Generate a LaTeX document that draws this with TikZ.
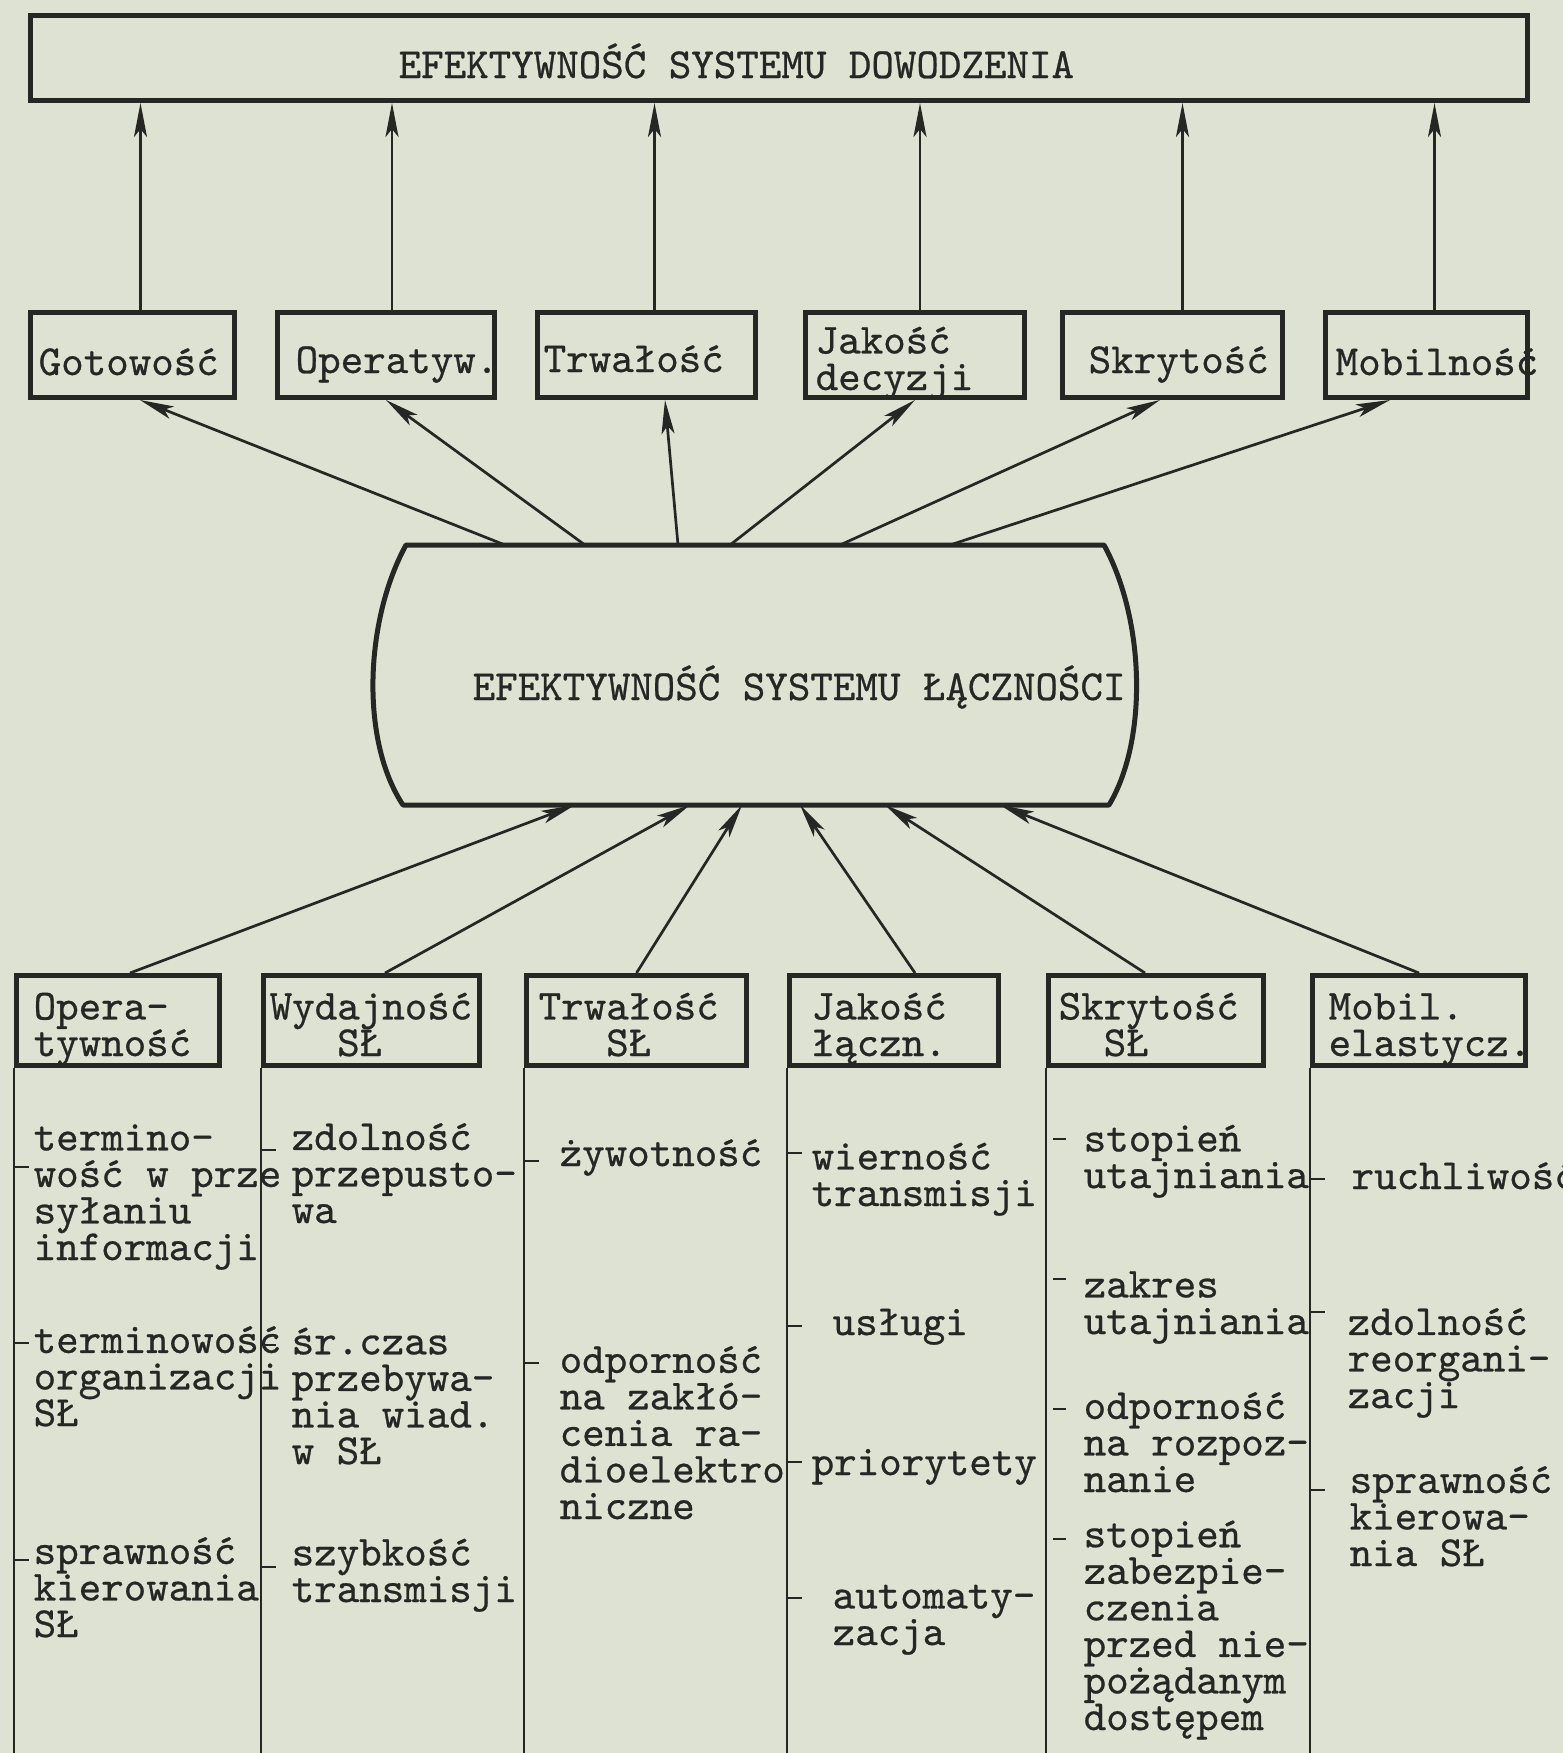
\documentclass[tikz,border=0pt]{standalone}
\usepackage{fontspec}
\usetikzlibrary{arrows.meta}

\definecolor{paper}{RGB}{221,226,211}
\definecolor{ink}{RGB}{38,38,36}
\newfontfamily\typefont{lmmono10-regular}[Extension=.otf, FakeBold=0.6]
\newcommand{\typew}{\typefont\fontsize{12.2}{10.4}\selectfont\lineskiplimit=-100pt\relax}

\tikzset{
  frame/.style={draw=ink, line width=0.5mm, inner sep=0pt},
  midbox/.style={frame, minimum height=8.5mm},
  lowbox/.style={frame, minimum height=9mm},
  txt/.style={font=\typew, text=ink, inner sep=0pt, anchor=base west, align=left},
  link/.style={ink, line width=0.27mm, -{Stealth[length=3.4mm,width=1.3mm,inset=0.8mm]}},
  colline/.style={ink, line width=0.27mm},
}

\begin{document}
\begin{tikzpicture}[x=0.1mm,y=-0.1mm]
\fill[paper] (0,0) rectangle (1563,1753);
\useasboundingbox (0,0) rectangle (1563,1753);

% top box
\node[frame, minimum width=149.7mm, minimum height=8.5mm] (esd) at (779,58) {};
\node[txt] (esdT) at (398,78) {EFEKTYWNOŚĆ SYSTEMU DOWODZENIA};

% middle row
\node[midbox, minimum width=20.4mm] (got) at (132.5,355) {};
\node[midbox, minimum width=21.7mm] (ope) at (386,355) {};
\node[midbox, minimum width=21.8mm] (trw) at (646.5,355) {};
\node[midbox, minimum width=21.9mm] (jak) at (915,355) {};
\node[midbox, minimum width=22.0mm] (skr) at (1172.5,355) {};
\node[midbox, minimum width=20.2mm] (mob) at (1426.5,355) {};
\node[txt] (gotT) at (38,375) {Gotowość};
\node[txt] (opeT) at (295,373) {Operatyw.};
\node[txt] (trwT) at (543,372) {Trwałość};
\node[txt] (jakT) at (815,390) {Jakość\\decyzji};
\node[txt] (skrT) at (1088,373) {Skrytość};
\node[txt] (mobT) at (1335,375) {Mobilność};

\draw[link] ([xshift=.8mm]got.north) -- ([xshift=.8mm]got.north |- esd.south);
\draw[link] ([xshift=.6mm]ope.north) -- ([xshift=.6mm]ope.north |- esd.south);
\draw[link] ([xshift=.8mm]trw.north) -- ([xshift=.8mm]trw.north |- esd.south);
\draw[link] ([xshift=.5mm]jak.north) -- ([xshift=.5mm]jak.north |- esd.south);
\draw[link] ([xshift=1mm]skr.north) -- ([xshift=1mm]skr.north |- esd.south);
\draw[link] ([xshift=.8mm]mob.north) -- ([xshift=.8mm]mob.north |- esd.south);

% barrel
\draw[ink, line width=0.5mm, line join=round] (406,545) -- (1104,545)
  .. controls (1145,620) and (1148,740) .. (1109,805) -- (403,805)
  .. controls (360,740) and (365,620) .. cycle;
\node[txt] (escT) at (472,700) {EFEKTYWNOŚĆ SYSTEMU ŁĄCZNOŚCI};
\coordinate (u1) at (505,545);
\coordinate (u2) at (585,545);
\coordinate (u3) at (678,545);
\coordinate (u4) at (730,545);
\coordinate (u5) at (840,545);
\coordinate (u6) at (950,545);
\coordinate (d1) at (575,805);
\coordinate (d2) at (690,805);
\coordinate (d3) at (742,805);
\coordinate (d4) at (800,805);
\coordinate (d5) at (885,805);
\coordinate (d6) at (1000,805);

\draw[link] (u1) -- ([xshift=.75mm]got.south);
\draw[link] (u2) -- (ope.south);
\draw[link] (u3) -- ([xshift=1.85mm]trw.south);
\draw[link] (u4) -- (jak.south);
\draw[link] (u5) -- ([xshift=-1.25mm]skr.south);
\draw[link] (u6) -- ([xshift=-3.65mm]mob.south);

% bottom row
\node[lowbox, minimum width=20.3mm] (opr) at (118,1020.5) {};
\node[lowbox, minimum width=21.6mm] (wyd) at (371.5,1020.5) {};
\node[lowbox, minimum width=22.0mm] (trl) at (636.5,1020.5) {};
\node[lowbox, minimum width=20.9mm] (jkl) at (894,1020.5) {};
\node[lowbox, minimum width=21.5mm] (skl) at (1156,1020.5) {};
\node[lowbox, minimum width=21.3mm] (mbl) at (1419,1020.5) {};
\node[txt] (oprT) at (33,1056) {Opera-\\tywność};
\node[txt] (wydT) at (269,1056) {Wydajność\\~~~SŁ};
\node[txt] (trlT) at (538,1056) {Trwałość\\~~~SŁ};
\node[txt] (jklT) at (811,1056) {Jakość\\łączn.};
\node[txt] (sklT) at (1058,1056) {Skrytość\\~~SŁ};
\node[txt] (mblT) at (1328,1056) {Mobil.\\elastycz.};

\draw[link] ([xshift=1.2mm]opr.north) -- (d1);
\draw[link] ([xshift=1.35mm]wyd.north) -- (d2);
\draw[link] (trl.north) -- (d3);
\draw[link] ([xshift=2.1mm]jkl.north) -- (d4);
\draw[link] ([xshift=-1.1mm]skl.north) -- (d5);
\draw[link] (mbl.north) -- (d6);

% columns
\draw[colline] (opr.south west) -- ++(0,700);
\draw[colline] (wyd.south west) -- ++(0,700);
\draw[colline] (trl.south west) -- ++(0,700);
\draw[colline] (jkl.south west) -- ++(0,700);
\draw[colline] (skl.south west) -- ++(0,700);
\draw[colline] (mbl.south west) -- ++(0,700);

\draw[colline] (14,1167) -- ++(15,0) (14,1343) -- ++(15,0) (14,1560) -- ++(15,0);
\draw[colline] (261,1150) -- ++(15,0) (261,1345) -- ++(15,0) (261,1567) -- ++(15,0);
\draw[colline] (524,1161) -- ++(15,0) (524,1363) -- ++(15,0);
\draw[colline] (787,1153) -- ++(15,0) (787,1326) -- ++(15,0) (787,1462) -- ++(15,0) (787,1598) -- ++(15,0);
\draw[colline] (1053,1139) -- ++(13,0) (1053,1279) -- ++(13,0) (1053,1409) -- ++(13,0) (1053,1539) -- ++(13,0);
\draw[colline] (1310,1179) -- ++(15,0) (1310,1312) -- ++(15,0) (1310,1490) -- ++(15,0);

% multi-line texts sit on their last baseline
\node[txt] (c1a) at (33,1260) {termino-\\wość w prze\\syłaniu\\informacji};
\node[txt] (c1b) at (33,1426) {terminowość\\organizacji\\SŁ};
\node[txt] (c1c) at (33,1637) {sprawność\\kierowania\\SŁ};
\node[txt] (c2a) at (291,1223) {zdolność\\przepusto-\\wa};
\node[txt] (c2b) at (291,1464) {śr.czas\\przebywa-\\nia wiad.\\w SŁ};
\node[txt] (c2c) at (291,1602) {szybkość\\transmisji};
\node[txt] (c3a) at (559,1166) {żywotność};
\node[txt] (c3b) at (559,1519) {odporność\\na zakłó-\\cenia ra-\\dioelektro\\niczne};
\node[txt] (c4a) at (811,1206) {wierność\\transmisji};
\node[txt] (c4b) at (832,1335) {usługi};
\node[txt] (c4c) at (811,1475) {priorytety};
\node[txt] (c4d) at (832,1645) {automaty-\\zacja};
\node[txt] (c5a) at (1083,1188) {stopień\\utajniania};
\node[txt] (c5b) at (1083,1334) {zakres\\utajniania};
\node[txt] (c5c) at (1083,1492) {odporność\\na rozpoz-\\nanie};
\node[txt] (c5d) at (1083,1730) {stopień\\zabezpie-\\czenia\\przed nie-\\pożądanym\\dostępem};
\node[txt] (c6a) at (1351,1189) {ruchliwość};
\node[txt] (c6b) at (1347,1408) {zdolność\\reorgani-\\zacji};
\node[txt] (c6c) at (1349,1566) {sprawność\\kierowa-\\nia SŁ};

\end{tikzpicture}
\end{document}
